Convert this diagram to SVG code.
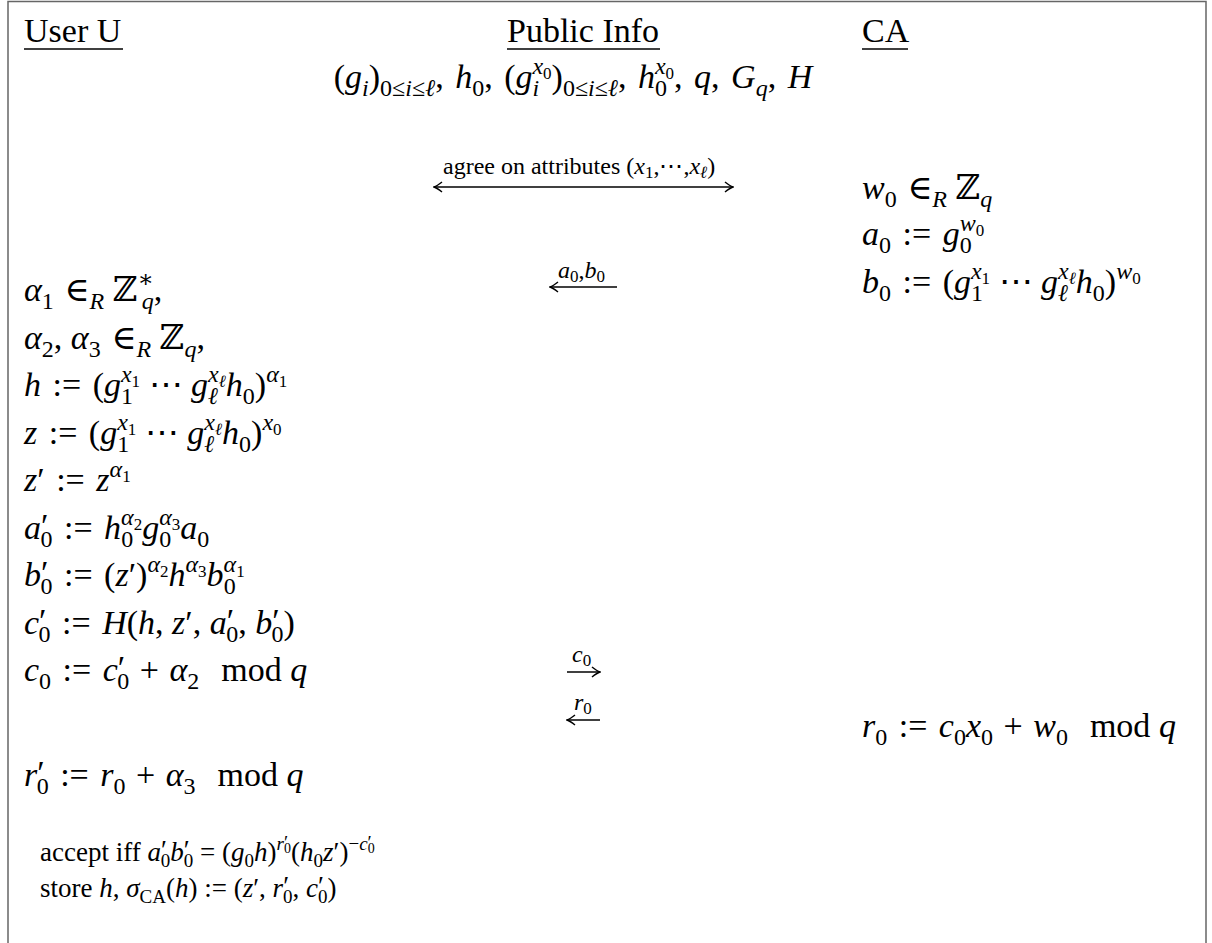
<svg xmlns="http://www.w3.org/2000/svg" width="1212" height="943" viewBox="0 0 1212 943">
<defs>
<style>
text { font-family: "Liberation Serif","DejaVu Serif",serif; fill:#000; }
.h { font-size:34px; }
.m { font-size:34px; }
.i { font-style:italic; }
.s { font-size:24px; }
.ss { font-size:17px; }
.a { font-size:27px; }
.as { font-size:19px; }
.ass { font-size:14px; }
.lbl { font-size:24px; }
.ls { font-size:17px; }
.ul { stroke:#000; stroke-width:1.5; }
.frame { fill:none; stroke:#666; stroke-width:1.5; }
.arr { stroke:#000; stroke-width:1.6; fill:none; }
</style>
<marker id="ah" viewBox="0 0 10 12" refX="9" refY="6" markerWidth="10" markerHeight="12" markerUnits="userSpaceOnUse" orient="auto-start-reverse">
<path d="M1 1 Q6 5 9 6 Q6 7 1 11" fill="none" stroke="#000" stroke-width="1.5"/>
</marker>
</defs>
<rect width="1212" height="943" fill="#fff"/>
<path class="frame" d="M8 943 V1.5 H1206 V943"/>

<g id="user">
<text class="h" x="24" y="42">User U</text>
<line class="ul" x1="24" y1="49" x2="123" y2="49"/>
<text class="m" x="24" y="301"><tspan class="i">α</tspan><tspan class="s" dy="8">1</tspan><tspan dy="-8" dx="2"> ∈</tspan><tspan class="s i" dy="8">R</tspan><tspan dy="-8"> ℤ</tspan><tspan class="s" dy="-14">∗</tspan><tspan class="s i" dx="-12" dy="22">q</tspan><tspan dy="-8">,</tspan></text>
<text class="m" x="24" y="348.5"><tspan class="i">α</tspan><tspan class="s" dy="8">2</tspan><tspan dy="-8">, </tspan><tspan class="i">α</tspan><tspan class="s" dy="8">3</tspan><tspan dy="-8" dx="2"> ∈</tspan><tspan class="s i" dy="8">R</tspan><tspan dy="-8"> ℤ</tspan><tspan class="s i" dy="8">q</tspan><tspan dy="-8">,</tspan></text>
<text class="m" x="24" y="396"><tspan class="i">h</tspan><tspan dx="3"> := </tspan><tspan dx="3">(</tspan><tspan class="i">g</tspan><tspan class="s i" dy="-14">x</tspan><tspan class="ss" dy="5">1</tspan><tspan class="s" dx="-19.2" dy="17">1</tspan><tspan dx="7.2" dy="-8"> ⋯ </tspan><tspan class="i">g</tspan><tspan class="s i" dy="-14">x</tspan><tspan class="ss i" dy="5">ℓ</tspan><tspan class="s i" dx="-17.8" dy="17">ℓ</tspan><tspan class="i" dx="7.8" dy="-8">h</tspan><tspan class="s" dy="8">0</tspan><tspan dy="-8">)</tspan><tspan class="s i" dy="-14">α</tspan><tspan class="ss" dy="5">1</tspan></text>
<text class="m" x="24" y="443.5"><tspan class="i">z</tspan><tspan dx="3"> := </tspan><tspan dx="3">(</tspan><tspan class="i">g</tspan><tspan class="s i" dy="-14">x</tspan><tspan class="ss" dy="5">1</tspan><tspan class="s" dx="-19.2" dy="17">1</tspan><tspan dx="7.2" dy="-8"> ⋯ </tspan><tspan class="i">g</tspan><tspan class="s i" dy="-14">x</tspan><tspan class="ss i" dy="5">ℓ</tspan><tspan class="s i" dx="-17.8" dy="17">ℓ</tspan><tspan class="i" dx="7.8" dy="-8">h</tspan><tspan class="s" dy="8">0</tspan><tspan dy="-8">)</tspan><tspan class="s i" dy="-14">x</tspan><tspan class="ss" dy="5">0</tspan></text>
<text class="m" x="24" y="491"><tspan class="i">z</tspan>′<tspan dx="3"> := </tspan><tspan class="i" dx="3">z</tspan><tspan class="s i" dy="-14">α</tspan><tspan class="ss" dy="5">1</tspan></text>
<text class="m" x="24" y="538.5"><tspan class="i">a</tspan><tspan dy="-2">′</tspan><tspan class="s" dx="-8" dy="10">0</tspan><tspan dy="-8" dx="3"> := </tspan><tspan class="i" dx="3">h</tspan><tspan class="s i" dy="-14">α</tspan><tspan class="ss" dy="5">2</tspan><tspan class="s" dx="-21" dy="17">0</tspan><tspan class="i" dx="9" dy="-8">g</tspan><tspan class="s i" dy="-14">α</tspan><tspan class="ss" dy="5">3</tspan><tspan class="s" dx="-21" dy="17">0</tspan><tspan class="i" dx="9" dy="-8">a</tspan><tspan class="s" dy="8">0</tspan></text>
<text class="m" x="24" y="586"><tspan class="i">b</tspan><tspan dy="-2">′</tspan><tspan class="s" dx="-8" dy="10">0</tspan><tspan dy="-8" dx="3"> := </tspan><tspan dx="3">(</tspan><tspan class="i">z</tspan>′)<tspan class="s i" dy="-14">α</tspan><tspan class="ss" dy="5">2</tspan><tspan class="i" dy="9">h</tspan><tspan class="s i" dy="-14">α</tspan><tspan class="ss" dy="5">3</tspan><tspan class="i" dy="9">b</tspan><tspan class="s i" dy="-14">α</tspan><tspan class="ss" dy="5">1</tspan><tspan class="s" dx="-21" dy="17">0</tspan></text>
<text class="m" x="24" y="633.5"><tspan class="i">c</tspan><tspan dy="-2">′</tspan><tspan class="s" dx="-8" dy="10">0</tspan><tspan dy="-8" dx="3"> := </tspan><tspan class="i" dx="3">H</tspan>(<tspan class="i">h</tspan>, <tspan class="i">z</tspan>′, <tspan class="i">a</tspan><tspan dy="-2">′</tspan><tspan class="s" dx="-8" dy="10">0</tspan><tspan dy="-8">, </tspan><tspan class="i">b</tspan><tspan dy="-2">′</tspan><tspan class="s" dx="-8" dy="10">0</tspan><tspan dy="-8">)</tspan></text>
<text class="m" x="24" y="681"><tspan class="i">c</tspan><tspan class="s" dy="8">0</tspan><tspan dy="-8" dx="3"> := </tspan><tspan class="i" dx="3">c</tspan><tspan dy="-2">′</tspan><tspan class="s" dx="-8" dy="10">0</tspan><tspan dy="-8" dx="2"> + </tspan><tspan class="i" dx="2">α</tspan><tspan class="s" dy="8">2</tspan><tspan dx="22" dy="-8">mod </tspan><tspan class="i">q</tspan></text>
<text class="m" x="24" y="786"><tspan class="i">r</tspan><tspan dy="-2">′</tspan><tspan class="s" dx="-8" dy="10">0</tspan><tspan dy="-8" dx="3"> := </tspan><tspan class="i" dx="3">r</tspan><tspan class="s" dy="8">0</tspan><tspan dy="-8" dx="2"> + </tspan><tspan class="i" dx="2">α</tspan><tspan class="s" dy="8">3</tspan><tspan dx="22" dy="-8">mod </tspan><tspan class="i">q</tspan></text>
<text class="a" x="40" y="861">accept iff <tspan class="i">a</tspan><tspan dy="-2">′</tspan><tspan class="as" dx="-6" dy="8">0</tspan><tspan class="i" dy="-6">b</tspan><tspan dy="-2">′</tspan><tspan class="as" dx="-6" dy="8">0</tspan><tspan dy="-6"> = (</tspan><tspan class="i">g</tspan><tspan class="as" dy="6">0</tspan><tspan class="i" dy="-6">h</tspan>)<tspan class="as i" dy="-11">r</tspan><tspan class="as" dy="-1">′</tspan><tspan class="ass" dx="-4" dy="4">0</tspan><tspan dy="8">(</tspan><tspan class="i">h</tspan><tspan class="as" dy="6">0</tspan><tspan class="i" dy="-6">z</tspan>′)<tspan class="as" dy="-11">−</tspan><tspan class="as i">c</tspan><tspan class="as" dy="-1">′</tspan><tspan class="ass" dx="-4" dy="4">0</tspan></text>
<text class="a" x="40" y="897">store <tspan class="i">h</tspan>, <tspan class="i">σ</tspan><tspan class="as" dy="6">CA</tspan><tspan dy="-6">(</tspan><tspan class="i">h</tspan>) := (<tspan class="i">z</tspan>′, <tspan class="i">r</tspan><tspan dy="-2">′</tspan><tspan class="as" dx="-6" dy="8">0</tspan><tspan dy="-6">, </tspan><tspan class="i">c</tspan><tspan dy="-2">′</tspan><tspan class="as" dx="-6" dy="8">0</tspan><tspan dy="-6">)</tspan></text>
</g>

<g id="public">
<text class="h" x="507" y="42">Public Info</text>
<line class="ul" x1="507" y1="49" x2="660" y2="49"/>
<text class="m" x="573" y="88" text-anchor="middle">(<tspan class="i">g</tspan><tspan class="s i" dy="8">i</tspan><tspan dy="-8">)</tspan><tspan class="s" dy="8">0≤<tspan class="i">i</tspan>≤<tspan class="i">ℓ</tspan></tspan><tspan dy="-8">, </tspan><tspan class="i" dx="3">h</tspan><tspan class="s" dy="8">0</tspan><tspan dy="-8">, </tspan><tspan dx="3">(</tspan><tspan class="i">g</tspan><tspan class="s i" dy="-14">x</tspan><tspan class="ss" dy="5">0</tspan><tspan class="s i" dx="-19.2" dy="17">i</tspan><tspan dx="12.5" dy="-8">)</tspan><tspan class="s" dy="8">0≤<tspan class="i">i</tspan>≤<tspan class="i">ℓ</tspan></tspan><tspan dy="-8">, </tspan><tspan class="i" dx="3">h</tspan><tspan class="s i" dy="-14">x</tspan><tspan class="ss" dy="5">0</tspan><tspan class="s" dx="-19.2" dy="17">0</tspan><tspan dx="7.2" dy="-8">, </tspan><tspan class="i" dx="3">q</tspan>, <tspan class="i" dx="3">G</tspan><tspan class="s i" dy="8">q</tspan><tspan dy="-8">, </tspan><tspan class="i" dx="3">H</tspan></text>
</g>

<g id="ca">
<text class="h" x="862" y="42">CA</text>
<line class="ul" x1="862" y1="49" x2="908" y2="49"/>
<text class="m" x="862" y="199"><tspan class="i">w</tspan><tspan class="s" dy="8">0</tspan><tspan dy="-8" dx="2"> ∈</tspan><tspan class="s i" dy="8">R</tspan><tspan dy="-8"> ℤ</tspan><tspan class="s i" dy="8">q</tspan></text>
<text class="m" x="862" y="245"><tspan class="i">a</tspan><tspan class="s" dy="8">0</tspan><tspan dy="-8" dx="3"> := </tspan><tspan class="i" dx="3">g</tspan><tspan class="s i" dy="-14">w</tspan><tspan class="ss" dy="5">0</tspan><tspan class="s" dx="-24.5" dy="17">0</tspan></text>
<text class="m" x="862" y="293"><tspan class="i">b</tspan><tspan class="s" dy="8">0</tspan><tspan dy="-8" dx="3"> := </tspan><tspan dx="3">(</tspan><tspan class="i">g</tspan><tspan class="s i" dy="-14">x</tspan><tspan class="ss" dy="5">1</tspan><tspan class="s" dx="-19.2" dy="17">1</tspan><tspan dx="7.2" dy="-8"> ⋯ </tspan><tspan class="i">g</tspan><tspan class="s i" dy="-14">x</tspan><tspan class="ss i" dy="5">ℓ</tspan><tspan class="s i" dx="-17.8" dy="17">ℓ</tspan><tspan class="i" dx="7.8" dy="-8">h</tspan><tspan class="s" dy="8">0</tspan><tspan dy="-8">)</tspan><tspan class="s i" dy="-14">w</tspan><tspan class="ss" dy="5">0</tspan></text>
<text class="m" x="862" y="737"><tspan class="i">r</tspan><tspan class="s" dy="8">0</tspan><tspan dy="-8" dx="3"> := </tspan><tspan class="i" dx="3">c</tspan><tspan class="s" dy="8">0</tspan><tspan class="i" dy="-8">x</tspan><tspan class="s" dy="8">0</tspan><tspan dy="-8" dx="2"> + </tspan><tspan class="i" dx="2">w</tspan><tspan class="s" dy="8">0</tspan><tspan dx="22" dy="-8">mod </tspan><tspan class="i">q</tspan></text>
</g>

<g id="connectors">
<line class="arr" x1="434" y1="187" x2="733" y2="187" marker-start="url(#ah)" marker-end="url(#ah)"/>
<text class="lbl" x="443" y="174">agree on attributes <tspan>(</tspan><tspan class="i">x</tspan><tspan class="ls" dy="4">1</tspan><tspan dy="-4">,⋯,</tspan><tspan class="i">x</tspan><tspan class="ls i" dy="4">ℓ</tspan><tspan dy="-4">)</tspan></text>
<line class="arr" x1="617" y1="287" x2="550" y2="287" marker-end="url(#ah)"/>
<text class="lbl" x="558" y="278"><tspan class="i">a</tspan><tspan class="ls" dy="4">0</tspan><tspan dy="-4">,</tspan><tspan class="i">b</tspan><tspan class="ls" dy="4">0</tspan></text>
<line class="arr" x1="567" y1="672" x2="600" y2="672" marker-end="url(#ah)"/>
<text class="lbl" x="572" y="662"><tspan class="i">c</tspan><tspan class="ls" dy="4">0</tspan></text>
<line class="arr" x1="600" y1="720" x2="567" y2="720" marker-end="url(#ah)"/>
<text class="lbl" x="574" y="710"><tspan class="i">r</tspan><tspan class="ls" dy="4">0</tspan></text>
</g>
</svg>
